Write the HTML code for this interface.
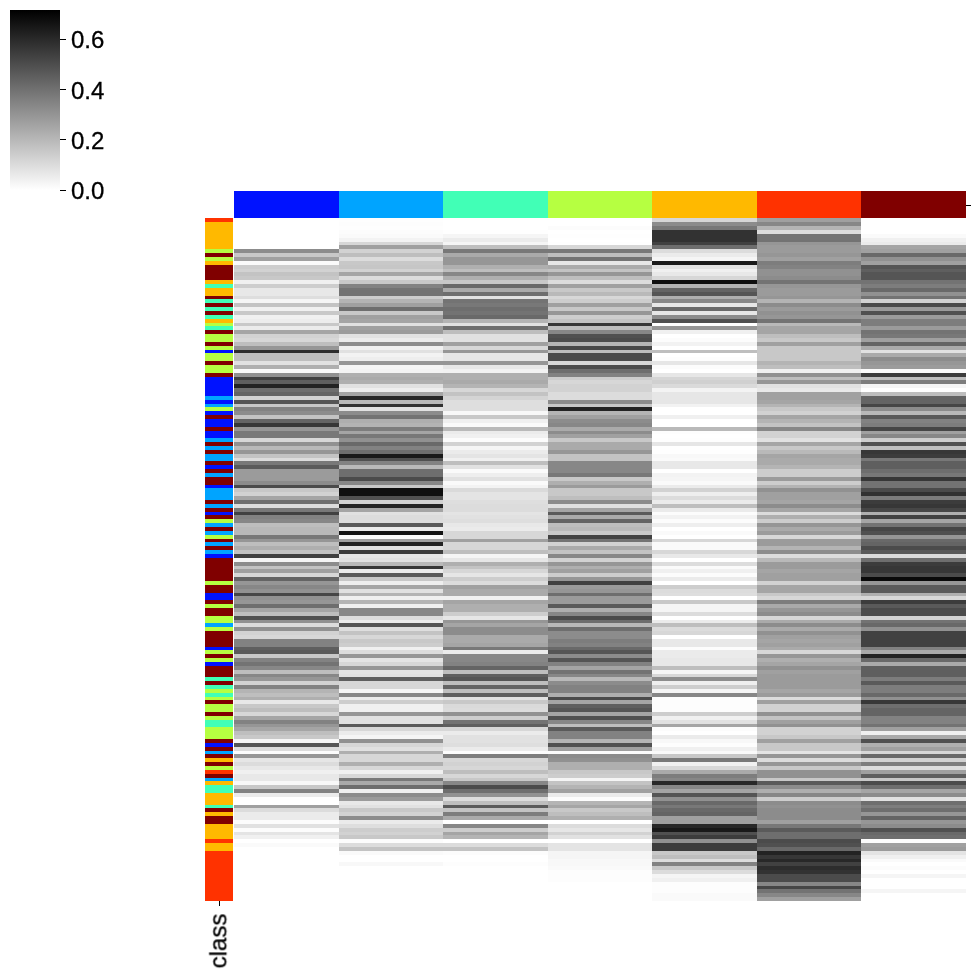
<!DOCTYPE html>
<html><head><meta charset="utf-8"><style>
html,body{margin:0;padding:0;background:#fff;width:976px;height:976px;overflow:hidden;position:relative}
.t{position:absolute;background:#000}
.lb{position:absolute;will-change:transform;-webkit-text-stroke:0.3px #000;font-family:"Liberation Sans",sans-serif;font-size:24px;line-height:1;color:#000;white-space:nowrap}
</style></head><body>
<svg width="976" height="976" shape-rendering="crispEdges" style="position:absolute;left:0;top:0"><rect x="205" y="218" width="28" height="4" fill="#ff3200"/><rect x="205" y="222" width="28" height="27" fill="#ffb900"/><rect x="205" y="249" width="28" height="4" fill="#b6ff41"/><rect x="205" y="253" width="28" height="4" fill="#800000"/><rect x="205" y="257" width="28" height="4" fill="#b6ff41"/><rect x="205" y="261" width="28" height="4" fill="#ffb900"/><rect x="205" y="265" width="28" height="15" fill="#800000"/><rect x="205" y="280" width="28" height="4" fill="#ffb900"/><rect x="205" y="284" width="28" height="4" fill="#41ffb6"/><rect x="205" y="288" width="28" height="8" fill="#ffb900"/><rect x="205" y="296" width="28" height="3" fill="#800000"/><rect x="205" y="299" width="28" height="4" fill="#41ffb6"/><rect x="205" y="303" width="28" height="4" fill="#800000"/><rect x="205" y="307" width="28" height="4" fill="#41ffb6"/><rect x="205" y="311" width="28" height="4" fill="#800000"/><rect x="205" y="315" width="28" height="4" fill="#41ffb6"/><rect x="205" y="319" width="28" height="4" fill="#ffb900"/><rect x="205" y="323" width="28" height="3" fill="#b6ff41"/><rect x="205" y="326" width="28" height="4" fill="#41ffb6"/><rect x="205" y="330" width="28" height="4" fill="#800000"/><rect x="205" y="334" width="28" height="8" fill="#b6ff41"/><rect x="205" y="342" width="28" height="4" fill="#800000"/><rect x="205" y="346" width="28" height="4" fill="#b6ff41"/><rect x="205" y="350" width="28" height="3" fill="#0012ff"/><rect x="205" y="353" width="28" height="8" fill="#b6ff41"/><rect x="205" y="361" width="28" height="4" fill="#800000"/><rect x="205" y="365" width="28" height="8" fill="#b6ff41"/><rect x="205" y="373" width="28" height="4" fill="#800000"/><rect x="205" y="377" width="28" height="19" fill="#0012ff"/><rect x="205" y="396" width="28" height="4" fill="#00a4ff"/><rect x="205" y="400" width="28" height="4" fill="#0012ff"/><rect x="205" y="404" width="28" height="3" fill="#00a4ff"/><rect x="205" y="407" width="28" height="4" fill="#b6ff41"/><rect x="205" y="411" width="28" height="4" fill="#0012ff"/><rect x="205" y="415" width="28" height="4" fill="#800000"/><rect x="205" y="419" width="28" height="8" fill="#0012ff"/><rect x="205" y="427" width="28" height="4" fill="#800000"/><rect x="205" y="431" width="28" height="7" fill="#0012ff"/><rect x="205" y="438" width="28" height="4" fill="#00a4ff"/><rect x="205" y="442" width="28" height="4" fill="#800000"/><rect x="205" y="446" width="28" height="4" fill="#00a4ff"/><rect x="205" y="450" width="28" height="4" fill="#800000"/><rect x="205" y="454" width="28" height="7" fill="#00a4ff"/><rect x="205" y="461" width="28" height="4" fill="#800000"/><rect x="205" y="465" width="28" height="4" fill="#0012ff"/><rect x="205" y="469" width="28" height="4" fill="#800000"/><rect x="205" y="473" width="28" height="4" fill="#00a4ff"/><rect x="205" y="477" width="28" height="8" fill="#800000"/><rect x="205" y="485" width="28" height="3" fill="#0012ff"/><rect x="205" y="488" width="28" height="12" fill="#00a4ff"/><rect x="205" y="500" width="28" height="4" fill="#800000"/><rect x="205" y="504" width="28" height="4" fill="#00a4ff"/><rect x="205" y="508" width="28" height="4" fill="#800000"/><rect x="205" y="512" width="28" height="3" fill="#0012ff"/><rect x="205" y="515" width="28" height="4" fill="#800000"/><rect x="205" y="519" width="28" height="4" fill="#b6ff41"/><rect x="205" y="523" width="28" height="4" fill="#00a4ff"/><rect x="205" y="527" width="28" height="4" fill="#800000"/><rect x="205" y="531" width="28" height="4" fill="#00a4ff"/><rect x="205" y="535" width="28" height="4" fill="#b6ff41"/><rect x="205" y="539" width="28" height="3" fill="#800000"/><rect x="205" y="542" width="28" height="4" fill="#00a4ff"/><rect x="205" y="546" width="28" height="4" fill="#800000"/><rect x="205" y="550" width="28" height="4" fill="#00a4ff"/><rect x="205" y="554" width="28" height="4" fill="#0012ff"/><rect x="205" y="558" width="28" height="23" fill="#800000"/><rect x="205" y="581" width="28" height="4" fill="#b6ff41"/><rect x="205" y="585" width="28" height="8" fill="#800000"/><rect x="205" y="593" width="28" height="7" fill="#0012ff"/><rect x="205" y="600" width="28" height="4" fill="#800000"/><rect x="205" y="604" width="28" height="4" fill="#b6ff41"/><rect x="205" y="608" width="28" height="8" fill="#800000"/><rect x="205" y="616" width="28" height="7" fill="#b6ff41"/><rect x="205" y="623" width="28" height="4" fill="#00a4ff"/><rect x="205" y="627" width="28" height="4" fill="#b6ff41"/><rect x="205" y="631" width="28" height="16" fill="#800000"/><rect x="205" y="647" width="28" height="3" fill="#0012ff"/><rect x="205" y="650" width="28" height="4" fill="#b6ff41"/><rect x="205" y="654" width="28" height="4" fill="#800000"/><rect x="205" y="658" width="28" height="4" fill="#b6ff41"/><rect x="205" y="662" width="28" height="4" fill="#0012ff"/><rect x="205" y="666" width="28" height="11" fill="#800000"/><rect x="205" y="677" width="28" height="4" fill="#41ffb6"/><rect x="205" y="681" width="28" height="4" fill="#800000"/><rect x="205" y="685" width="28" height="4" fill="#41ffb6"/><rect x="205" y="689" width="28" height="4" fill="#b6ff41"/><rect x="205" y="693" width="28" height="4" fill="#41ffb6"/><rect x="205" y="697" width="28" height="3" fill="#b6ff41"/><rect x="205" y="700" width="28" height="4" fill="#800000"/><rect x="205" y="704" width="28" height="8" fill="#b6ff41"/><rect x="205" y="712" width="28" height="4" fill="#800000"/><rect x="205" y="716" width="28" height="4" fill="#b6ff41"/><rect x="205" y="720" width="28" height="7" fill="#41ffb6"/><rect x="205" y="727" width="28" height="12" fill="#b6ff41"/><rect x="205" y="739" width="28" height="4" fill="#800000"/><rect x="205" y="743" width="28" height="4" fill="#0012ff"/><rect x="205" y="747" width="28" height="4" fill="#800000"/><rect x="205" y="751" width="28" height="3" fill="#00a4ff"/><rect x="205" y="754" width="28" height="4" fill="#800000"/><rect x="205" y="758" width="28" height="4" fill="#ffb900"/><rect x="205" y="762" width="28" height="4" fill="#800000"/><rect x="205" y="766" width="28" height="4" fill="#b6ff41"/><rect x="205" y="770" width="28" height="4" fill="#ff3200"/><rect x="205" y="774" width="28" height="4" fill="#800000"/><rect x="205" y="778" width="28" height="3" fill="#00a4ff"/><rect x="205" y="781" width="28" height="4" fill="#ffb900"/><rect x="205" y="785" width="28" height="8" fill="#41ffb6"/><rect x="205" y="793" width="28" height="12" fill="#ffb900"/><rect x="205" y="805" width="28" height="3" fill="#41ffb6"/><rect x="205" y="808" width="28" height="4" fill="#800000"/><rect x="205" y="812" width="28" height="4" fill="#ffb900"/><rect x="205" y="816" width="28" height="8" fill="#800000"/><rect x="205" y="824" width="28" height="15" fill="#ffb900"/><rect x="205" y="839" width="28" height="4" fill="#ff3200"/><rect x="205" y="843" width="28" height="8" fill="#ffb900"/><rect x="205" y="851" width="28" height="50" fill="#ff3200"/><rect x="234" y="249" width="105" height="4" fill="#8c8c8c"/><rect x="234" y="253" width="105" height="4" fill="#c8c8c8"/><rect x="234" y="257" width="105" height="4" fill="#a0a0a0"/><rect x="234" y="261" width="105" height="4" fill="#fafafa"/><rect x="234" y="265" width="105" height="4" fill="#cdcdcd"/><rect x="234" y="269" width="105" height="3" fill="#d2d2d2"/><rect x="234" y="272" width="105" height="4" fill="#c3c3c3"/><rect x="234" y="276" width="105" height="4" fill="#c8c8c8"/><rect x="234" y="280" width="105" height="4" fill="#f0f0f0"/><rect x="234" y="284" width="105" height="4" fill="#cdcdcd"/><rect x="234" y="288" width="105" height="8" fill="#e8e8e8"/><rect x="234" y="296" width="105" height="3" fill="#dedede"/><rect x="234" y="299" width="105" height="4" fill="#f5f5f5"/><rect x="234" y="303" width="105" height="4" fill="#c3c3c3"/><rect x="234" y="307" width="105" height="4" fill="#f0f0f0"/><rect x="234" y="311" width="105" height="4" fill="#c8c8c8"/><rect x="234" y="315" width="105" height="4" fill="#f0f0f0"/><rect x="234" y="319" width="105" height="4" fill="#ececec"/><rect x="234" y="323" width="105" height="3" fill="#c8c8c8"/><rect x="234" y="326" width="105" height="4" fill="#ebebeb"/><rect x="234" y="330" width="105" height="4" fill="#a5a5a5"/><rect x="234" y="334" width="105" height="4" fill="#d2d2d2"/><rect x="234" y="338" width="105" height="4" fill="#d7d7d7"/><rect x="234" y="342" width="105" height="4" fill="#bebebe"/><rect x="234" y="346" width="105" height="4" fill="#969696"/><rect x="234" y="350" width="105" height="3" fill="#2d2d2d"/><rect x="234" y="353" width="105" height="8" fill="#bebebe"/><rect x="234" y="361" width="105" height="4" fill="#e1e1e1"/><rect x="234" y="365" width="105" height="4" fill="#afafaf"/><rect x="234" y="369" width="105" height="4" fill="#fafafa"/><rect x="234" y="373" width="105" height="4" fill="#919191"/><rect x="234" y="377" width="105" height="3" fill="#414141"/><rect x="234" y="380" width="105" height="4" fill="#5f5f5f"/><rect x="234" y="384" width="105" height="4" fill="#232323"/><rect x="234" y="388" width="105" height="4" fill="#6e6e6e"/><rect x="234" y="392" width="105" height="4" fill="#646464"/><rect x="234" y="396" width="105" height="4" fill="#d2d2d2"/><rect x="234" y="400" width="105" height="4" fill="#555555"/><rect x="234" y="404" width="105" height="3" fill="#c8c8c8"/><rect x="234" y="407" width="105" height="4" fill="#828282"/><rect x="234" y="411" width="105" height="4" fill="#8c8c8c"/><rect x="234" y="415" width="105" height="4" fill="#c3c3c3"/><rect x="234" y="419" width="105" height="4" fill="#646464"/><rect x="234" y="423" width="105" height="4" fill="#373737"/><rect x="234" y="427" width="105" height="4" fill="#969696"/><rect x="234" y="431" width="105" height="7" fill="#787878"/><rect x="234" y="438" width="105" height="4" fill="#d7d7d7"/><rect x="234" y="442" width="105" height="4" fill="#919191"/><rect x="234" y="446" width="105" height="4" fill="#b9b9b9"/><rect x="234" y="450" width="105" height="4" fill="#969696"/><rect x="234" y="454" width="105" height="4" fill="#c3c3c3"/><rect x="234" y="458" width="105" height="3" fill="#dcdcdc"/><rect x="234" y="461" width="105" height="4" fill="#787878"/><rect x="234" y="465" width="105" height="4" fill="#5a5a5a"/><rect x="234" y="469" width="105" height="12" fill="#9b9b9b"/><rect x="234" y="481" width="105" height="4" fill="#8c8c8c"/><rect x="234" y="485" width="105" height="3" fill="#4b4b4b"/><rect x="234" y="488" width="105" height="4" fill="#c8c8c8"/><rect x="234" y="492" width="105" height="4" fill="#d2d2d2"/><rect x="234" y="496" width="105" height="4" fill="#a5a5a5"/><rect x="234" y="500" width="105" height="4" fill="#6e6e6e"/><rect x="234" y="504" width="105" height="4" fill="#dcdcdc"/><rect x="234" y="508" width="105" height="4" fill="#787878"/><rect x="234" y="512" width="105" height="3" fill="#414141"/><rect x="234" y="515" width="105" height="4" fill="#828282"/><rect x="234" y="519" width="105" height="4" fill="#878787"/><rect x="234" y="523" width="105" height="4" fill="#bebebe"/><rect x="234" y="527" width="105" height="8" fill="#b9b9b9"/><rect x="234" y="535" width="105" height="4" fill="#787878"/><rect x="234" y="539" width="105" height="3" fill="#969696"/><rect x="234" y="542" width="105" height="4" fill="#bebebe"/><rect x="234" y="546" width="105" height="4" fill="#afafaf"/><rect x="234" y="550" width="105" height="4" fill="#c3c3c3"/><rect x="234" y="554" width="105" height="4" fill="#414141"/><rect x="234" y="558" width="105" height="4" fill="#f5f5f5"/><rect x="234" y="562" width="105" height="4" fill="#8c8c8c"/><rect x="234" y="566" width="105" height="3" fill="#c3c3c3"/><rect x="234" y="569" width="105" height="4" fill="#a0a0a0"/><rect x="234" y="573" width="105" height="4" fill="#d7d7d7"/><rect x="234" y="577" width="105" height="4" fill="#646464"/><rect x="234" y="581" width="105" height="4" fill="#969696"/><rect x="234" y="585" width="105" height="4" fill="#878787"/><rect x="234" y="589" width="105" height="4" fill="#919191"/><rect x="234" y="593" width="105" height="3" fill="#464646"/><rect x="234" y="596" width="105" height="4" fill="#919191"/><rect x="234" y="600" width="105" height="4" fill="#969696"/><rect x="234" y="604" width="105" height="4" fill="#6e6e6e"/><rect x="234" y="608" width="105" height="4" fill="#a5a5a5"/><rect x="234" y="612" width="105" height="4" fill="#bebebe"/><rect x="234" y="616" width="105" height="4" fill="#505050"/><rect x="234" y="620" width="105" height="3" fill="#919191"/><rect x="234" y="623" width="105" height="4" fill="#dcdcdc"/><rect x="234" y="627" width="105" height="4" fill="#919191"/><rect x="234" y="631" width="105" height="4" fill="#d2d2d2"/><rect x="234" y="635" width="105" height="4" fill="#d7d7d7"/><rect x="234" y="639" width="105" height="8" fill="#828282"/><rect x="234" y="647" width="105" height="3" fill="#5f5f5f"/><rect x="234" y="650" width="105" height="4" fill="#5a5a5a"/><rect x="234" y="654" width="105" height="4" fill="#c8c8c8"/><rect x="234" y="658" width="105" height="4" fill="#828282"/><rect x="234" y="662" width="105" height="4" fill="#737373"/><rect x="234" y="666" width="105" height="4" fill="#878787"/><rect x="234" y="670" width="105" height="4" fill="#bebebe"/><rect x="234" y="674" width="105" height="3" fill="#878787"/><rect x="234" y="677" width="105" height="4" fill="#969696"/><rect x="234" y="681" width="105" height="4" fill="#d2d2d2"/><rect x="234" y="685" width="105" height="4" fill="#828282"/><rect x="234" y="689" width="105" height="4" fill="#b4b4b4"/><rect x="234" y="693" width="105" height="4" fill="#bebebe"/><rect x="234" y="697" width="105" height="3" fill="#afafaf"/><rect x="234" y="700" width="105" height="4" fill="#e8e8e8"/><rect x="234" y="704" width="105" height="4" fill="#c8c8c8"/><rect x="234" y="708" width="105" height="4" fill="#bebebe"/><rect x="234" y="712" width="105" height="4" fill="#d7d7d7"/><rect x="234" y="716" width="105" height="4" fill="#a5a5a5"/><rect x="234" y="720" width="105" height="4" fill="#828282"/><rect x="234" y="724" width="105" height="3" fill="#969696"/><rect x="234" y="727" width="105" height="4" fill="#a5a5a5"/><rect x="234" y="731" width="105" height="4" fill="#bebebe"/><rect x="234" y="735" width="105" height="4" fill="#c8c8c8"/><rect x="234" y="739" width="105" height="4" fill="#f5f5f5"/><rect x="234" y="743" width="105" height="4" fill="#555555"/><rect x="234" y="747" width="105" height="4" fill="#dcdcdc"/><rect x="234" y="751" width="105" height="3" fill="#fcfcfc"/><rect x="234" y="754" width="105" height="4" fill="#969696"/><rect x="234" y="758" width="105" height="4" fill="#e6e6e6"/><rect x="234" y="762" width="105" height="4" fill="#dcdcdc"/><rect x="234" y="766" width="105" height="4" fill="#e8e8e8"/><rect x="234" y="770" width="105" height="4" fill="#f0f0f0"/><rect x="234" y="774" width="105" height="7" fill="#e8e8e8"/><rect x="234" y="781" width="105" height="4" fill="#f8f8f8"/><rect x="234" y="785" width="105" height="4" fill="#c8c8c8"/><rect x="234" y="789" width="105" height="4" fill="#828282"/><rect x="234" y="793" width="105" height="4" fill="#ebebeb"/><rect x="234" y="805" width="105" height="3" fill="#a0a0a0"/><rect x="234" y="808" width="105" height="4" fill="#dcdcdc"/><rect x="234" y="812" width="105" height="8" fill="#ebebeb"/><rect x="234" y="820" width="105" height="4" fill="#fcfcfc"/><rect x="234" y="824" width="105" height="4" fill="#e1e1e1"/><rect x="234" y="828" width="105" height="4" fill="#fcfcfc"/><rect x="234" y="832" width="105" height="3" fill="#e4e4e4"/><rect x="234" y="835" width="105" height="4" fill="#f0f0f0"/><rect x="234" y="843" width="105" height="4" fill="#fafafa"/><rect x="339" y="218" width="104" height="4" fill="#fefefe"/><rect x="339" y="222" width="104" height="4" fill="#fdfdfd"/><rect x="339" y="226" width="104" height="4" fill="#fefefe"/><rect x="339" y="230" width="104" height="4" fill="#fcfcfc"/><rect x="339" y="234" width="104" height="4" fill="#fafafa"/><rect x="339" y="238" width="104" height="4" fill="#f3f3f3"/><rect x="339" y="242" width="104" height="3" fill="#d7d7d7"/><rect x="339" y="245" width="104" height="4" fill="#a0a0a0"/><rect x="339" y="249" width="104" height="4" fill="#d2d2d2"/><rect x="339" y="253" width="104" height="4" fill="#bebebe"/><rect x="339" y="257" width="104" height="4" fill="#dcdcdc"/><rect x="339" y="261" width="104" height="4" fill="#c8c8c8"/><rect x="339" y="265" width="104" height="4" fill="#c6c6c6"/><rect x="339" y="269" width="104" height="3" fill="#d2d2d2"/><rect x="339" y="272" width="104" height="4" fill="#a5a5a5"/><rect x="339" y="276" width="104" height="4" fill="#dcdcdc"/><rect x="339" y="280" width="104" height="4" fill="#c8c8c8"/><rect x="339" y="284" width="104" height="4" fill="#828282"/><rect x="339" y="288" width="104" height="8" fill="#737373"/><rect x="339" y="296" width="104" height="3" fill="#cdcdcd"/><rect x="339" y="299" width="104" height="4" fill="#b4b4b4"/><rect x="339" y="303" width="104" height="4" fill="#a0a0a0"/><rect x="339" y="307" width="104" height="4" fill="#6e6e6e"/><rect x="339" y="311" width="104" height="4" fill="#c8c8c8"/><rect x="339" y="315" width="104" height="4" fill="#a0a0a0"/><rect x="339" y="319" width="104" height="4" fill="#a5a5a5"/><rect x="339" y="323" width="104" height="3" fill="#e1e1e1"/><rect x="339" y="326" width="104" height="4" fill="#a0a0a0"/><rect x="339" y="330" width="104" height="4" fill="#9b9b9b"/><rect x="339" y="334" width="104" height="4" fill="#e1e1e1"/><rect x="339" y="338" width="104" height="4" fill="#ebebeb"/><rect x="339" y="342" width="104" height="4" fill="#8c8c8c"/><rect x="339" y="346" width="104" height="4" fill="#f0f0f0"/><rect x="339" y="350" width="104" height="3" fill="#e1e1e1"/><rect x="339" y="353" width="104" height="4" fill="#f3f3f3"/><rect x="339" y="357" width="104" height="4" fill="#eeeeee"/><rect x="339" y="361" width="104" height="4" fill="#969696"/><rect x="339" y="365" width="104" height="4" fill="#f5f5f5"/><rect x="339" y="369" width="104" height="4" fill="#f3f3f3"/><rect x="339" y="373" width="104" height="4" fill="#afafaf"/><rect x="339" y="377" width="104" height="3" fill="#aaaaaa"/><rect x="339" y="380" width="104" height="4" fill="#afafaf"/><rect x="339" y="384" width="104" height="4" fill="#e1e1e1"/><rect x="339" y="388" width="104" height="4" fill="#eeeeee"/><rect x="339" y="392" width="104" height="4" fill="#a5a5a5"/><rect x="339" y="396" width="104" height="4" fill="#282828"/><rect x="339" y="400" width="104" height="4" fill="#b9b9b9"/><rect x="339" y="404" width="104" height="3" fill="#323232"/><rect x="339" y="407" width="104" height="4" fill="#e1e1e1"/><rect x="339" y="411" width="104" height="4" fill="#8c8c8c"/><rect x="339" y="415" width="104" height="4" fill="#737373"/><rect x="339" y="419" width="104" height="4" fill="#afafaf"/><rect x="339" y="423" width="104" height="4" fill="#b4b4b4"/><rect x="339" y="427" width="104" height="4" fill="#7d7d7d"/><rect x="339" y="431" width="104" height="3" fill="#a5a5a5"/><rect x="339" y="434" width="104" height="4" fill="#787878"/><rect x="339" y="438" width="104" height="4" fill="#919191"/><rect x="339" y="442" width="104" height="4" fill="#696969"/><rect x="339" y="446" width="104" height="4" fill="#828282"/><rect x="339" y="450" width="104" height="4" fill="#6e6e6e"/><rect x="339" y="454" width="104" height="4" fill="#191919"/><rect x="339" y="458" width="104" height="3" fill="#505050"/><rect x="339" y="461" width="104" height="4" fill="#828282"/><rect x="339" y="465" width="104" height="4" fill="#b9b9b9"/><rect x="339" y="469" width="104" height="8" fill="#6e6e6e"/><rect x="339" y="477" width="104" height="4" fill="#4b4b4b"/><rect x="339" y="481" width="104" height="4" fill="#878787"/><rect x="339" y="485" width="104" height="3" fill="#c8c8c8"/><rect x="339" y="488" width="104" height="8" fill="#0f0f0f"/><rect x="339" y="496" width="104" height="4" fill="#505050"/><rect x="339" y="500" width="104" height="4" fill="#d2d2d2"/><rect x="339" y="504" width="104" height="4" fill="#232323"/><rect x="339" y="508" width="104" height="4" fill="#a5a5a5"/><rect x="339" y="512" width="104" height="3" fill="#e1e1e1"/><rect x="339" y="515" width="104" height="8" fill="#dcdcdc"/><rect x="339" y="523" width="104" height="4" fill="#5a5a5a"/><rect x="339" y="527" width="104" height="4" fill="#ebebeb"/><rect x="339" y="531" width="104" height="4" fill="#141414"/><rect x="339" y="535" width="104" height="4" fill="#fcfcfc"/><rect x="339" y="539" width="104" height="3" fill="#a0a0a0"/><rect x="339" y="542" width="104" height="4" fill="#232323"/><rect x="339" y="546" width="104" height="4" fill="#e1e1e1"/><rect x="339" y="550" width="104" height="4" fill="#3c3c3c"/><rect x="339" y="554" width="104" height="4" fill="#e6e6e6"/><rect x="339" y="558" width="104" height="4" fill="#e1e1e1"/><rect x="339" y="562" width="104" height="4" fill="#b9b9b9"/><rect x="339" y="566" width="104" height="3" fill="#373737"/><rect x="339" y="569" width="104" height="4" fill="#ebebeb"/><rect x="339" y="573" width="104" height="4" fill="#5a5a5a"/><rect x="339" y="577" width="104" height="4" fill="#c8c8c8"/><rect x="339" y="581" width="104" height="4" fill="#eeeeee"/><rect x="339" y="585" width="104" height="4" fill="#a5a5a5"/><rect x="339" y="589" width="104" height="4" fill="#e1e1e1"/><rect x="339" y="593" width="104" height="3" fill="#b4b4b4"/><rect x="339" y="596" width="104" height="4" fill="#f0f0f0"/><rect x="339" y="600" width="104" height="4" fill="#b4b4b4"/><rect x="339" y="604" width="104" height="4" fill="#f0f0f0"/><rect x="339" y="608" width="104" height="8" fill="#878787"/><rect x="339" y="616" width="104" height="4" fill="#dcdcdc"/><rect x="339" y="620" width="104" height="3" fill="#ebebeb"/><rect x="339" y="623" width="104" height="4" fill="#555555"/><rect x="339" y="627" width="104" height="4" fill="#dedede"/><rect x="339" y="631" width="104" height="4" fill="#c3c3c3"/><rect x="339" y="635" width="104" height="4" fill="#d7d7d7"/><rect x="339" y="639" width="104" height="4" fill="#c8c8c8"/><rect x="339" y="643" width="104" height="4" fill="#cdcdcd"/><rect x="339" y="647" width="104" height="3" fill="#f0f0f0"/><rect x="339" y="650" width="104" height="4" fill="#dcdcdc"/><rect x="339" y="654" width="104" height="4" fill="#969696"/><rect x="339" y="658" width="104" height="4" fill="#e4e4e4"/><rect x="339" y="662" width="104" height="4" fill="#d7d7d7"/><rect x="339" y="666" width="104" height="4" fill="#969696"/><rect x="339" y="670" width="104" height="4" fill="#e4e4e4"/><rect x="339" y="674" width="104" height="3" fill="#e1e1e1"/><rect x="339" y="677" width="104" height="4" fill="#5f5f5f"/><rect x="339" y="681" width="104" height="8" fill="#d7d7d7"/><rect x="339" y="689" width="104" height="4" fill="#f5f5f5"/><rect x="339" y="693" width="104" height="4" fill="#878787"/><rect x="339" y="697" width="104" height="3" fill="#ebebeb"/><rect x="339" y="700" width="104" height="4" fill="#cdcdcd"/><rect x="339" y="704" width="104" height="8" fill="#f0f0f0"/><rect x="339" y="712" width="104" height="4" fill="#969696"/><rect x="339" y="716" width="104" height="8" fill="#e1e1e1"/><rect x="339" y="724" width="104" height="3" fill="#5a5a5a"/><rect x="339" y="727" width="104" height="4" fill="#d7d7d7"/><rect x="339" y="731" width="104" height="4" fill="#ebebeb"/><rect x="339" y="735" width="104" height="4" fill="#f5f5f5"/><rect x="339" y="739" width="104" height="4" fill="#919191"/><rect x="339" y="743" width="104" height="4" fill="#d7d7d7"/><rect x="339" y="747" width="104" height="4" fill="#e1e1e1"/><rect x="339" y="751" width="104" height="3" fill="#afafaf"/><rect x="339" y="754" width="104" height="8" fill="#d7d7d7"/><rect x="339" y="762" width="104" height="4" fill="#afafaf"/><rect x="339" y="766" width="104" height="4" fill="#d7d7d7"/><rect x="339" y="770" width="104" height="4" fill="#f0f0f0"/><rect x="339" y="774" width="104" height="4" fill="#d7d7d7"/><rect x="339" y="778" width="104" height="3" fill="#787878"/><rect x="339" y="781" width="104" height="4" fill="#aaaaaa"/><rect x="339" y="785" width="104" height="4" fill="#6e6e6e"/><rect x="339" y="789" width="104" height="4" fill="#f0f0f0"/><rect x="339" y="793" width="104" height="4" fill="#8c8c8c"/><rect x="339" y="797" width="104" height="4" fill="#9b9b9b"/><rect x="339" y="801" width="104" height="4" fill="#e8e8e8"/><rect x="339" y="805" width="104" height="3" fill="#e1e1e1"/><rect x="339" y="808" width="104" height="4" fill="#c8c8c8"/><rect x="339" y="812" width="104" height="4" fill="#d2d2d2"/><rect x="339" y="816" width="104" height="4" fill="#8c8c8c"/><rect x="339" y="820" width="104" height="4" fill="#ebebeb"/><rect x="339" y="824" width="104" height="4" fill="#dedede"/><rect x="339" y="828" width="104" height="4" fill="#cdcdcd"/><rect x="339" y="832" width="104" height="3" fill="#d2d2d2"/><rect x="339" y="835" width="104" height="4" fill="#c8c8c8"/><rect x="339" y="839" width="104" height="4" fill="#fcfcfc"/><rect x="339" y="843" width="104" height="4" fill="#dcdcdc"/><rect x="339" y="847" width="104" height="4" fill="#c3c3c3"/><rect x="339" y="851" width="104" height="4" fill="#fafafa"/><rect x="339" y="862" width="104" height="4" fill="#f8f8f8"/><rect x="443" y="230" width="105" height="4" fill="#fefefe"/><rect x="443" y="234" width="105" height="4" fill="#f5f5f5"/><rect x="443" y="238" width="105" height="4" fill="#ebebeb"/><rect x="443" y="242" width="105" height="3" fill="#f5f5f5"/><rect x="443" y="245" width="105" height="4" fill="#bebebe"/><rect x="443" y="249" width="105" height="4" fill="#787878"/><rect x="443" y="253" width="105" height="4" fill="#aaaaaa"/><rect x="443" y="257" width="105" height="8" fill="#969696"/><rect x="443" y="265" width="105" height="4" fill="#afafaf"/><rect x="443" y="269" width="105" height="3" fill="#bebebe"/><rect x="443" y="272" width="105" height="4" fill="#878787"/><rect x="443" y="276" width="105" height="4" fill="#afafaf"/><rect x="443" y="280" width="105" height="4" fill="#c8c8c8"/><rect x="443" y="284" width="105" height="4" fill="#696969"/><rect x="443" y="288" width="105" height="4" fill="#aaaaaa"/><rect x="443" y="292" width="105" height="4" fill="#6e6e6e"/><rect x="443" y="296" width="105" height="3" fill="#e1e1e1"/><rect x="443" y="299" width="105" height="4" fill="#737373"/><rect x="443" y="303" width="105" height="4" fill="#787878"/><rect x="443" y="307" width="105" height="4" fill="#6e6e6e"/><rect x="443" y="311" width="105" height="4" fill="#737373"/><rect x="443" y="315" width="105" height="4" fill="#696969"/><rect x="443" y="319" width="105" height="4" fill="#b4b4b4"/><rect x="443" y="323" width="105" height="3" fill="#e1e1e1"/><rect x="443" y="326" width="105" height="4" fill="#6e6e6e"/><rect x="443" y="330" width="105" height="4" fill="#bebebe"/><rect x="443" y="334" width="105" height="8" fill="#e1e1e1"/><rect x="443" y="342" width="105" height="4" fill="#a0a0a0"/><rect x="443" y="346" width="105" height="4" fill="#d7d7d7"/><rect x="443" y="350" width="105" height="3" fill="#969696"/><rect x="443" y="353" width="105" height="8" fill="#e6e6e6"/><rect x="443" y="361" width="105" height="4" fill="#969696"/><rect x="443" y="365" width="105" height="4" fill="#e8e8e8"/><rect x="443" y="369" width="105" height="4" fill="#f2f2f2"/><rect x="443" y="373" width="105" height="7" fill="#afafaf"/><rect x="443" y="380" width="105" height="4" fill="#aaaaaa"/><rect x="443" y="384" width="105" height="4" fill="#b4b4b4"/><rect x="443" y="388" width="105" height="4" fill="#d7d7d7"/><rect x="443" y="392" width="105" height="4" fill="#c3c3c3"/><rect x="443" y="396" width="105" height="4" fill="#d4d4d4"/><rect x="443" y="400" width="105" height="11" fill="#dedede"/><rect x="443" y="411" width="105" height="4" fill="#f8f8f8"/><rect x="443" y="415" width="105" height="4" fill="#c8c8c8"/><rect x="443" y="419" width="105" height="4" fill="#f0f0f0"/><rect x="443" y="423" width="105" height="4" fill="#fafafa"/><rect x="443" y="427" width="105" height="4" fill="#b9b9b9"/><rect x="443" y="431" width="105" height="3" fill="#ebebeb"/><rect x="443" y="434" width="105" height="4" fill="#f0f0f0"/><rect x="443" y="438" width="105" height="4" fill="#fcfcfc"/><rect x="443" y="442" width="105" height="4" fill="#d2d2d2"/><rect x="443" y="446" width="105" height="4" fill="#f5f5f5"/><rect x="443" y="450" width="105" height="4" fill="#ebebeb"/><rect x="443" y="454" width="105" height="4" fill="#e4e4e4"/><rect x="443" y="458" width="105" height="3" fill="#f0f0f0"/><rect x="443" y="461" width="105" height="4" fill="#bebebe"/><rect x="443" y="465" width="105" height="4" fill="#e1e1e1"/><rect x="443" y="469" width="105" height="4" fill="#fafafa"/><rect x="443" y="473" width="105" height="4" fill="#eeeeee"/><rect x="443" y="477" width="105" height="4" fill="#e1e1e1"/><rect x="443" y="481" width="105" height="4" fill="#fafafa"/><rect x="443" y="485" width="105" height="3" fill="#f3f3f3"/><rect x="443" y="488" width="105" height="4" fill="#dadada"/><rect x="443" y="492" width="105" height="8" fill="#e4e4e4"/><rect x="443" y="500" width="105" height="4" fill="#dedede"/><rect x="443" y="504" width="105" height="8" fill="#dcdcdc"/><rect x="443" y="512" width="105" height="3" fill="#e4e4e4"/><rect x="443" y="515" width="105" height="4" fill="#e1e1e1"/><rect x="443" y="519" width="105" height="4" fill="#dedede"/><rect x="443" y="523" width="105" height="4" fill="#e8e8e8"/><rect x="443" y="527" width="105" height="4" fill="#ebebeb"/><rect x="443" y="531" width="105" height="8" fill="#d7d7d7"/><rect x="443" y="539" width="105" height="3" fill="#a0a0a0"/><rect x="443" y="542" width="105" height="8" fill="#d7d7d7"/><rect x="443" y="550" width="105" height="4" fill="#bebebe"/><rect x="443" y="554" width="105" height="4" fill="#f5f5f5"/><rect x="443" y="558" width="105" height="4" fill="#e6e6e6"/><rect x="443" y="562" width="105" height="4" fill="#afafaf"/><rect x="443" y="566" width="105" height="3" fill="#c3c3c3"/><rect x="443" y="569" width="105" height="4" fill="#d7d7d7"/><rect x="443" y="573" width="105" height="4" fill="#e6e6e6"/><rect x="443" y="577" width="105" height="4" fill="#cdcdcd"/><rect x="443" y="581" width="105" height="4" fill="#dcdcdc"/><rect x="443" y="585" width="105" height="4" fill="#a0a0a0"/><rect x="443" y="589" width="105" height="7" fill="#aaaaaa"/><rect x="443" y="596" width="105" height="4" fill="#f0f0f0"/><rect x="443" y="600" width="105" height="4" fill="#a5a5a5"/><rect x="443" y="604" width="105" height="8" fill="#afafaf"/><rect x="443" y="612" width="105" height="4" fill="#cdcdcd"/><rect x="443" y="616" width="105" height="4" fill="#e6e6e6"/><rect x="443" y="620" width="105" height="3" fill="#969696"/><rect x="443" y="623" width="105" height="4" fill="#a5a5a5"/><rect x="443" y="627" width="105" height="8" fill="#8c8c8c"/><rect x="443" y="635" width="105" height="8" fill="#aaaaaa"/><rect x="443" y="643" width="105" height="4" fill="#a5a5a5"/><rect x="443" y="647" width="105" height="3" fill="#787878"/><rect x="443" y="650" width="105" height="4" fill="#ebebeb"/><rect x="443" y="654" width="105" height="8" fill="#878787"/><rect x="443" y="662" width="105" height="4" fill="#828282"/><rect x="443" y="666" width="105" height="4" fill="#646464"/><rect x="443" y="670" width="105" height="4" fill="#bebebe"/><rect x="443" y="674" width="105" height="3" fill="#5f5f5f"/><rect x="443" y="677" width="105" height="4" fill="#555555"/><rect x="443" y="681" width="105" height="4" fill="#bebebe"/><rect x="443" y="685" width="105" height="4" fill="#646464"/><rect x="443" y="689" width="105" height="4" fill="#bebebe"/><rect x="443" y="693" width="105" height="4" fill="#5f5f5f"/><rect x="443" y="697" width="105" height="3" fill="#e1e1e1"/><rect x="443" y="700" width="105" height="4" fill="#c8c8c8"/><rect x="443" y="704" width="105" height="4" fill="#dadada"/><rect x="443" y="708" width="105" height="4" fill="#dcdcdc"/><rect x="443" y="712" width="105" height="4" fill="#919191"/><rect x="443" y="716" width="105" height="4" fill="#cdcdcd"/><rect x="443" y="720" width="105" height="4" fill="#737373"/><rect x="443" y="724" width="105" height="3" fill="#5f5f5f"/><rect x="443" y="727" width="105" height="4" fill="#d7d7d7"/><rect x="443" y="731" width="105" height="4" fill="#ebebeb"/><rect x="443" y="735" width="105" height="8" fill="#e1e1e1"/><rect x="443" y="743" width="105" height="4" fill="#dedede"/><rect x="443" y="747" width="105" height="4" fill="#ebebeb"/><rect x="443" y="751" width="105" height="3" fill="#fcfcfc"/><rect x="443" y="754" width="105" height="4" fill="#7d7d7d"/><rect x="443" y="758" width="105" height="4" fill="#d7d7d7"/><rect x="443" y="762" width="105" height="4" fill="#d2d2d2"/><rect x="443" y="766" width="105" height="4" fill="#d7d7d7"/><rect x="443" y="770" width="105" height="4" fill="#bebebe"/><rect x="443" y="774" width="105" height="4" fill="#d7d7d7"/><rect x="443" y="778" width="105" height="3" fill="#c8c8c8"/><rect x="443" y="781" width="105" height="4" fill="#878787"/><rect x="443" y="785" width="105" height="4" fill="#4b4b4b"/><rect x="443" y="789" width="105" height="4" fill="#6e6e6e"/><rect x="443" y="793" width="105" height="4" fill="#919191"/><rect x="443" y="797" width="105" height="4" fill="#dcdcdc"/><rect x="443" y="801" width="105" height="4" fill="#bebebe"/><rect x="443" y="805" width="105" height="3" fill="#5a5a5a"/><rect x="443" y="808" width="105" height="4" fill="#c3c3c3"/><rect x="443" y="812" width="105" height="4" fill="#7d7d7d"/><rect x="443" y="816" width="105" height="4" fill="#aaaaaa"/><rect x="443" y="824" width="105" height="4" fill="#878787"/><rect x="443" y="828" width="105" height="4" fill="#cdcdcd"/><rect x="443" y="832" width="105" height="3" fill="#a5a5a5"/><rect x="443" y="835" width="105" height="4" fill="#b4b4b4"/><rect x="443" y="843" width="105" height="4" fill="#dcdcdc"/><rect x="443" y="847" width="105" height="4" fill="#c3c3c3"/><rect x="443" y="851" width="105" height="4" fill="#fcfcfc"/><rect x="443" y="862" width="105" height="4" fill="#fdfdfd"/><rect x="548" y="226" width="104" height="4" fill="#fcfcfc"/><rect x="548" y="234" width="104" height="4" fill="#fefefe"/><rect x="548" y="242" width="104" height="3" fill="#fefefe"/><rect x="548" y="245" width="104" height="4" fill="#d7d7d7"/><rect x="548" y="249" width="104" height="4" fill="#787878"/><rect x="548" y="253" width="104" height="4" fill="#bebebe"/><rect x="548" y="257" width="104" height="4" fill="#737373"/><rect x="548" y="261" width="104" height="4" fill="#e6e6e6"/><rect x="548" y="265" width="104" height="4" fill="#aaaaaa"/><rect x="548" y="269" width="104" height="3" fill="#c3c3c3"/><rect x="548" y="272" width="104" height="4" fill="#969696"/><rect x="548" y="276" width="104" height="4" fill="#bebebe"/><rect x="548" y="280" width="104" height="4" fill="#dcdcdc"/><rect x="548" y="284" width="104" height="4" fill="#a0a0a0"/><rect x="548" y="288" width="104" height="4" fill="#c8c8c8"/><rect x="548" y="292" width="104" height="4" fill="#b9b9b9"/><rect x="548" y="296" width="104" height="3" fill="#d7d7d7"/><rect x="548" y="299" width="104" height="4" fill="#cdcdcd"/><rect x="548" y="303" width="104" height="4" fill="#a0a0a0"/><rect x="548" y="307" width="104" height="4" fill="#c8c8c8"/><rect x="548" y="311" width="104" height="4" fill="#969696"/><rect x="548" y="315" width="104" height="4" fill="#cdcdcd"/><rect x="548" y="319" width="104" height="4" fill="#c3c3c3"/><rect x="548" y="323" width="104" height="3" fill="#373737"/><rect x="548" y="326" width="104" height="4" fill="#bebebe"/><rect x="548" y="330" width="104" height="4" fill="#878787"/><rect x="548" y="334" width="104" height="4" fill="#505050"/><rect x="548" y="338" width="104" height="4" fill="#4b4b4b"/><rect x="548" y="342" width="104" height="4" fill="#b4b4b4"/><rect x="548" y="346" width="104" height="4" fill="#464646"/><rect x="548" y="350" width="104" height="3" fill="#bebebe"/><rect x="548" y="353" width="104" height="8" fill="#4b4b4b"/><rect x="548" y="361" width="104" height="4" fill="#d7d7d7"/><rect x="548" y="365" width="104" height="4" fill="#4b4b4b"/><rect x="548" y="369" width="104" height="4" fill="#6e6e6e"/><rect x="548" y="373" width="104" height="4" fill="#828282"/><rect x="548" y="377" width="104" height="3" fill="#cdcdcd"/><rect x="548" y="380" width="104" height="4" fill="#d7d7d7"/><rect x="548" y="384" width="104" height="8" fill="#d2d2d2"/><rect x="548" y="392" width="104" height="8" fill="#dcdcdc"/><rect x="548" y="400" width="104" height="4" fill="#8c8c8c"/><rect x="548" y="404" width="104" height="3" fill="#c8c8c8"/><rect x="548" y="407" width="104" height="4" fill="#232323"/><rect x="548" y="411" width="104" height="4" fill="#b4b4b4"/><rect x="548" y="415" width="104" height="4" fill="#a0a0a0"/><rect x="548" y="419" width="104" height="4" fill="#8c8c8c"/><rect x="548" y="423" width="104" height="4" fill="#878787"/><rect x="548" y="427" width="104" height="4" fill="#aaaaaa"/><rect x="548" y="431" width="104" height="3" fill="#8c8c8c"/><rect x="548" y="434" width="104" height="4" fill="#a0a0a0"/><rect x="548" y="438" width="104" height="4" fill="#c8c8c8"/><rect x="548" y="442" width="104" height="8" fill="#aaaaaa"/><rect x="548" y="450" width="104" height="4" fill="#969696"/><rect x="548" y="454" width="104" height="7" fill="#c3c3c3"/><rect x="548" y="461" width="104" height="12" fill="#878787"/><rect x="548" y="473" width="104" height="4" fill="#787878"/><rect x="548" y="477" width="104" height="4" fill="#c8c8c8"/><rect x="548" y="481" width="104" height="4" fill="#afafaf"/><rect x="548" y="485" width="104" height="3" fill="#9b9b9b"/><rect x="548" y="488" width="104" height="8" fill="#c8c8c8"/><rect x="548" y="496" width="104" height="4" fill="#bebebe"/><rect x="548" y="500" width="104" height="4" fill="#8c8c8c"/><rect x="548" y="504" width="104" height="4" fill="#e1e1e1"/><rect x="548" y="508" width="104" height="4" fill="#a5a5a5"/><rect x="548" y="512" width="104" height="3" fill="#5a5a5a"/><rect x="548" y="515" width="104" height="4" fill="#aaaaaa"/><rect x="548" y="519" width="104" height="4" fill="#646464"/><rect x="548" y="523" width="104" height="4" fill="#bebebe"/><rect x="548" y="527" width="104" height="4" fill="#b9b9b9"/><rect x="548" y="531" width="104" height="4" fill="#c8c8c8"/><rect x="548" y="535" width="104" height="4" fill="#414141"/><rect x="548" y="539" width="104" height="3" fill="#737373"/><rect x="548" y="542" width="104" height="4" fill="#d2d2d2"/><rect x="548" y="546" width="104" height="4" fill="#aaaaaa"/><rect x="548" y="550" width="104" height="4" fill="#c3c3c3"/><rect x="548" y="554" width="104" height="4" fill="#878787"/><rect x="548" y="558" width="104" height="4" fill="#d2d2d2"/><rect x="548" y="562" width="104" height="4" fill="#969696"/><rect x="548" y="566" width="104" height="3" fill="#afafaf"/><rect x="548" y="569" width="104" height="4" fill="#a0a0a0"/><rect x="548" y="573" width="104" height="4" fill="#cdcdcd"/><rect x="548" y="577" width="104" height="4" fill="#969696"/><rect x="548" y="581" width="104" height="4" fill="#414141"/><rect x="548" y="585" width="104" height="4" fill="#9b9b9b"/><rect x="548" y="589" width="104" height="4" fill="#969696"/><rect x="548" y="593" width="104" height="3" fill="#6e6e6e"/><rect x="548" y="596" width="104" height="8" fill="#9b9b9b"/><rect x="548" y="604" width="104" height="4" fill="#5a5a5a"/><rect x="548" y="608" width="104" height="4" fill="#afafaf"/><rect x="548" y="612" width="104" height="4" fill="#878787"/><rect x="548" y="616" width="104" height="4" fill="#4b4b4b"/><rect x="548" y="620" width="104" height="3" fill="#6e6e6e"/><rect x="548" y="623" width="104" height="4" fill="#b9b9b9"/><rect x="548" y="627" width="104" height="4" fill="#6e6e6e"/><rect x="548" y="631" width="104" height="8" fill="#8c8c8c"/><rect x="548" y="639" width="104" height="4" fill="#7d7d7d"/><rect x="548" y="643" width="104" height="4" fill="#828282"/><rect x="548" y="647" width="104" height="3" fill="#696969"/><rect x="548" y="650" width="104" height="4" fill="#555555"/><rect x="548" y="654" width="104" height="4" fill="#8c8c8c"/><rect x="548" y="658" width="104" height="4" fill="#555555"/><rect x="548" y="662" width="104" height="4" fill="#828282"/><rect x="548" y="666" width="104" height="4" fill="#a5a5a5"/><rect x="548" y="670" width="104" height="4" fill="#737373"/><rect x="548" y="674" width="104" height="3" fill="#878787"/><rect x="548" y="677" width="104" height="4" fill="#b9b9b9"/><rect x="548" y="681" width="104" height="4" fill="#8c8c8c"/><rect x="548" y="685" width="104" height="8" fill="#828282"/><rect x="548" y="693" width="104" height="4" fill="#afafaf"/><rect x="548" y="697" width="104" height="3" fill="#4b4b4b"/><rect x="548" y="700" width="104" height="4" fill="#a5a5a5"/><rect x="548" y="704" width="104" height="4" fill="#5f5f5f"/><rect x="548" y="708" width="104" height="4" fill="#555555"/><rect x="548" y="712" width="104" height="4" fill="#a5a5a5"/><rect x="548" y="716" width="104" height="4" fill="#505050"/><rect x="548" y="720" width="104" height="4" fill="#878787"/><rect x="548" y="724" width="104" height="3" fill="#bebebe"/><rect x="548" y="727" width="104" height="4" fill="#5a5a5a"/><rect x="548" y="731" width="104" height="8" fill="#828282"/><rect x="548" y="739" width="104" height="4" fill="#b4b4b4"/><rect x="548" y="743" width="104" height="4" fill="#505050"/><rect x="548" y="747" width="104" height="4" fill="#a0a0a0"/><rect x="548" y="751" width="104" height="3" fill="#fcfcfc"/><rect x="548" y="754" width="104" height="4" fill="#8c8c8c"/><rect x="548" y="758" width="104" height="4" fill="#919191"/><rect x="548" y="762" width="104" height="8" fill="#afafaf"/><rect x="548" y="770" width="104" height="4" fill="#c8c8c8"/><rect x="548" y="774" width="104" height="4" fill="#cdcdcd"/><rect x="548" y="778" width="104" height="3" fill="#f5f5f5"/><rect x="548" y="781" width="104" height="4" fill="#c3c3c3"/><rect x="548" y="785" width="104" height="4" fill="#b4b4b4"/><rect x="548" y="789" width="104" height="4" fill="#a0a0a0"/><rect x="548" y="793" width="104" height="4" fill="#ebebeb"/><rect x="548" y="797" width="104" height="4" fill="#fcfcfc"/><rect x="548" y="801" width="104" height="4" fill="#b4b4b4"/><rect x="548" y="805" width="104" height="3" fill="#a5a5a5"/><rect x="548" y="808" width="104" height="4" fill="#c8c8c8"/><rect x="548" y="812" width="104" height="4" fill="#bebebe"/><rect x="548" y="816" width="104" height="4" fill="#afafaf"/><rect x="548" y="824" width="104" height="4" fill="#dcdcdc"/><rect x="548" y="828" width="104" height="4" fill="#e6e6e6"/><rect x="548" y="832" width="104" height="3" fill="#d2d2d2"/><rect x="548" y="835" width="104" height="4" fill="#e1e1e1"/><rect x="548" y="843" width="104" height="8" fill="#e4e4e4"/><rect x="548" y="851" width="104" height="8" fill="#f5f5f5"/><rect x="548" y="859" width="104" height="7" fill="#f8f8f8"/><rect x="548" y="866" width="104" height="4" fill="#fafafa"/><rect x="548" y="870" width="104" height="12" fill="#fdfdfd"/><rect x="652" y="218" width="105" height="4" fill="#d7d7d7"/><rect x="652" y="222" width="105" height="4" fill="#8c8c8c"/><rect x="652" y="226" width="105" height="4" fill="#787878"/><rect x="652" y="230" width="105" height="12" fill="#323232"/><rect x="652" y="242" width="105" height="3" fill="#414141"/><rect x="652" y="245" width="105" height="4" fill="#6e6e6e"/><rect x="652" y="249" width="105" height="4" fill="#dcdcdc"/><rect x="652" y="253" width="105" height="4" fill="#ebebeb"/><rect x="652" y="257" width="105" height="4" fill="#f5f5f5"/><rect x="652" y="261" width="105" height="4" fill="#191919"/><rect x="652" y="265" width="105" height="4" fill="#e1e1e1"/><rect x="652" y="269" width="105" height="3" fill="#f0f0f0"/><rect x="652" y="272" width="105" height="4" fill="#e8e8e8"/><rect x="652" y="276" width="105" height="4" fill="#d7d7d7"/><rect x="652" y="280" width="105" height="4" fill="#0f0f0f"/><rect x="652" y="284" width="105" height="4" fill="#b4b4b4"/><rect x="652" y="288" width="105" height="4" fill="#646464"/><rect x="652" y="292" width="105" height="4" fill="#555555"/><rect x="652" y="296" width="105" height="3" fill="#afafaf"/><rect x="652" y="299" width="105" height="4" fill="#878787"/><rect x="652" y="303" width="105" height="4" fill="#e6e6e6"/><rect x="652" y="307" width="105" height="4" fill="#696969"/><rect x="652" y="311" width="105" height="4" fill="#e6e6e6"/><rect x="652" y="315" width="105" height="4" fill="#8c8c8c"/><rect x="652" y="319" width="105" height="4" fill="#505050"/><rect x="652" y="326" width="105" height="4" fill="#969696"/><rect x="652" y="330" width="105" height="4" fill="#f0f0f0"/><rect x="652" y="338" width="105" height="4" fill="#fcfcfc"/><rect x="652" y="342" width="105" height="4" fill="#f2f2f2"/><rect x="652" y="350" width="105" height="3" fill="#bebebe"/><rect x="652" y="357" width="105" height="4" fill="#fdfdfd"/><rect x="652" y="361" width="105" height="4" fill="#e6e6e6"/><rect x="652" y="365" width="105" height="4" fill="#fcfcfc"/><rect x="652" y="373" width="105" height="4" fill="#e6e6e6"/><rect x="652" y="377" width="105" height="3" fill="#d5d5d5"/><rect x="652" y="380" width="105" height="4" fill="#d0d0d0"/><rect x="652" y="384" width="105" height="4" fill="#dadada"/><rect x="652" y="388" width="105" height="4" fill="#f3f3f3"/><rect x="652" y="392" width="105" height="12" fill="#e6e6e6"/><rect x="652" y="404" width="105" height="3" fill="#f2f2f2"/><rect x="652" y="415" width="105" height="4" fill="#f0f0f0"/><rect x="652" y="427" width="105" height="4" fill="#b9b9b9"/><rect x="652" y="431" width="105" height="3" fill="#fdfdfd"/><rect x="652" y="438" width="105" height="4" fill="#fefefe"/><rect x="652" y="442" width="105" height="4" fill="#e6e6e6"/><rect x="652" y="450" width="105" height="4" fill="#fefefe"/><rect x="652" y="454" width="105" height="4" fill="#f8f8f8"/><rect x="652" y="458" width="105" height="3" fill="#fafafa"/><rect x="652" y="461" width="105" height="8" fill="#e8e8e8"/><rect x="652" y="473" width="105" height="4" fill="#f3f3f3"/><rect x="652" y="477" width="105" height="4" fill="#f5f5f5"/><rect x="652" y="481" width="105" height="4" fill="#fafafa"/><rect x="652" y="485" width="105" height="3" fill="#ebebeb"/><rect x="652" y="488" width="105" height="4" fill="#d2d2d2"/><rect x="652" y="492" width="105" height="4" fill="#eeeeee"/><rect x="652" y="496" width="105" height="4" fill="#dcdcdc"/><rect x="652" y="500" width="105" height="4" fill="#ebebeb"/><rect x="652" y="504" width="105" height="4" fill="#bebebe"/><rect x="652" y="508" width="105" height="4" fill="#ebebeb"/><rect x="652" y="512" width="105" height="3" fill="#fcfcfc"/><rect x="652" y="515" width="105" height="4" fill="#f2f2f2"/><rect x="652" y="519" width="105" height="4" fill="#fcfcfc"/><rect x="652" y="523" width="105" height="4" fill="#eeeeee"/><rect x="652" y="531" width="105" height="4" fill="#fafafa"/><rect x="652" y="539" width="105" height="3" fill="#d7d7d7"/><rect x="652" y="542" width="105" height="8" fill="#fafafa"/><rect x="652" y="550" width="105" height="4" fill="#d7d7d7"/><rect x="652" y="554" width="105" height="4" fill="#e8e8e8"/><rect x="652" y="562" width="105" height="4" fill="#dcdcdc"/><rect x="652" y="566" width="105" height="3" fill="#fafafa"/><rect x="652" y="569" width="105" height="4" fill="#f0f0f0"/><rect x="652" y="573" width="105" height="4" fill="#fcfcfc"/><rect x="652" y="577" width="105" height="4" fill="#ebebeb"/><rect x="652" y="585" width="105" height="4" fill="#cdcdcd"/><rect x="652" y="589" width="105" height="4" fill="#dcdcdc"/><rect x="652" y="593" width="105" height="3" fill="#dedede"/><rect x="652" y="600" width="105" height="4" fill="#c8c8c8"/><rect x="652" y="604" width="105" height="8" fill="#f5f5f5"/><rect x="652" y="612" width="105" height="4" fill="#dcdcdc"/><rect x="652" y="620" width="105" height="3" fill="#ebebeb"/><rect x="652" y="623" width="105" height="4" fill="#bebebe"/><rect x="652" y="627" width="105" height="4" fill="#dcdcdc"/><rect x="652" y="631" width="105" height="4" fill="#d7d7d7"/><rect x="652" y="639" width="105" height="8" fill="#e8e8e8"/><rect x="652" y="647" width="105" height="3" fill="#fcfcfc"/><rect x="652" y="650" width="105" height="8" fill="#ebebeb"/><rect x="652" y="658" width="105" height="8" fill="#e8e8e8"/><rect x="652" y="666" width="105" height="4" fill="#bebebe"/><rect x="652" y="670" width="105" height="4" fill="#f5f5f5"/><rect x="652" y="674" width="105" height="3" fill="#d7d7d7"/><rect x="652" y="677" width="105" height="4" fill="#8c8c8c"/><rect x="652" y="681" width="105" height="4" fill="#eeeeee"/><rect x="652" y="685" width="105" height="4" fill="#cdcdcd"/><rect x="652" y="689" width="105" height="4" fill="#f5f5f5"/><rect x="652" y="693" width="105" height="4" fill="#878787"/><rect x="652" y="697" width="105" height="15" fill="#fdfdfd"/><rect x="652" y="712" width="105" height="4" fill="#cdcdcd"/><rect x="652" y="716" width="105" height="4" fill="#f0f0f0"/><rect x="652" y="720" width="105" height="4" fill="#e1e1e1"/><rect x="652" y="724" width="105" height="3" fill="#a5a5a5"/><rect x="652" y="727" width="105" height="4" fill="#fcfcfc"/><rect x="652" y="735" width="105" height="4" fill="#ebebeb"/><rect x="652" y="739" width="105" height="4" fill="#f8f8f8"/><rect x="652" y="743" width="105" height="4" fill="#fdfdfd"/><rect x="652" y="747" width="105" height="4" fill="#f0f0f0"/><rect x="652" y="751" width="105" height="3" fill="#fafafa"/><rect x="652" y="754" width="105" height="4" fill="#c8c8c8"/><rect x="652" y="758" width="105" height="4" fill="#787878"/><rect x="652" y="762" width="105" height="4" fill="#f0f0f0"/><rect x="652" y="766" width="105" height="4" fill="#d7d7d7"/><rect x="652" y="770" width="105" height="4" fill="#aaaaaa"/><rect x="652" y="774" width="105" height="4" fill="#7d7d7d"/><rect x="652" y="778" width="105" height="3" fill="#878787"/><rect x="652" y="781" width="105" height="4" fill="#282828"/><rect x="652" y="785" width="105" height="4" fill="#878787"/><rect x="652" y="789" width="105" height="4" fill="#a5a5a5"/><rect x="652" y="793" width="105" height="4" fill="#555555"/><rect x="652" y="797" width="105" height="4" fill="#919191"/><rect x="652" y="801" width="105" height="4" fill="#696969"/><rect x="652" y="805" width="105" height="3" fill="#787878"/><rect x="652" y="808" width="105" height="4" fill="#696969"/><rect x="652" y="812" width="105" height="4" fill="#646464"/><rect x="652" y="816" width="105" height="8" fill="#a0a0a0"/><rect x="652" y="824" width="105" height="4" fill="#282828"/><rect x="652" y="828" width="105" height="4" fill="#191919"/><rect x="652" y="832" width="105" height="3" fill="#505050"/><rect x="652" y="835" width="105" height="4" fill="#3c3c3c"/><rect x="652" y="839" width="105" height="4" fill="#919191"/><rect x="652" y="843" width="105" height="8" fill="#3c3c3c"/><rect x="652" y="851" width="105" height="4" fill="#c8c8c8"/><rect x="652" y="855" width="105" height="4" fill="#bebebe"/><rect x="652" y="859" width="105" height="3" fill="#dcdcdc"/><rect x="652" y="862" width="105" height="4" fill="#828282"/><rect x="652" y="866" width="105" height="4" fill="#c8c8c8"/><rect x="652" y="870" width="105" height="4" fill="#dcdcdc"/><rect x="652" y="874" width="105" height="4" fill="#f5f5f5"/><rect x="652" y="878" width="105" height="4" fill="#f0f0f0"/><rect x="652" y="882" width="105" height="11" fill="#fdfdfd"/><rect x="652" y="893" width="105" height="8" fill="#fafafa"/><rect x="757" y="218" width="104" height="4" fill="#a0a0a0"/><rect x="757" y="222" width="104" height="4" fill="#878787"/><rect x="757" y="226" width="104" height="4" fill="#b4b4b4"/><rect x="757" y="230" width="104" height="4" fill="#dcdcdc"/><rect x="757" y="234" width="104" height="8" fill="#737373"/><rect x="757" y="242" width="104" height="3" fill="#969696"/><rect x="757" y="245" width="104" height="8" fill="#9b9b9b"/><rect x="757" y="253" width="104" height="4" fill="#969696"/><rect x="757" y="257" width="104" height="4" fill="#a0a0a0"/><rect x="757" y="261" width="104" height="4" fill="#7d7d7d"/><rect x="757" y="265" width="104" height="4" fill="#828282"/><rect x="757" y="269" width="104" height="7" fill="#919191"/><rect x="757" y="276" width="104" height="4" fill="#8c8c8c"/><rect x="757" y="280" width="104" height="4" fill="#737373"/><rect x="757" y="284" width="104" height="4" fill="#969696"/><rect x="757" y="288" width="104" height="8" fill="#9b9b9b"/><rect x="757" y="296" width="104" height="3" fill="#969696"/><rect x="757" y="299" width="104" height="4" fill="#b4b4b4"/><rect x="757" y="303" width="104" height="4" fill="#8c8c8c"/><rect x="757" y="307" width="104" height="4" fill="#9b9b9b"/><rect x="757" y="311" width="104" height="4" fill="#919191"/><rect x="757" y="315" width="104" height="4" fill="#969696"/><rect x="757" y="319" width="104" height="4" fill="#737373"/><rect x="757" y="323" width="104" height="3" fill="#b9b9b9"/><rect x="757" y="326" width="104" height="8" fill="#a5a5a5"/><rect x="757" y="334" width="104" height="4" fill="#bebebe"/><rect x="757" y="338" width="104" height="4" fill="#c8c8c8"/><rect x="757" y="342" width="104" height="4" fill="#a0a0a0"/><rect x="757" y="346" width="104" height="15" fill="#c8c8c8"/><rect x="757" y="361" width="104" height="4" fill="#b4b4b4"/><rect x="757" y="365" width="104" height="4" fill="#bebebe"/><rect x="757" y="369" width="104" height="4" fill="#f0f0f0"/><rect x="757" y="373" width="104" height="4" fill="#919191"/><rect x="757" y="377" width="104" height="3" fill="#bebebe"/><rect x="757" y="380" width="104" height="4" fill="#969696"/><rect x="757" y="384" width="104" height="4" fill="#e1e1e1"/><rect x="757" y="388" width="104" height="4" fill="#e8e8e8"/><rect x="757" y="392" width="104" height="8" fill="#a0a0a0"/><rect x="757" y="400" width="104" height="4" fill="#a5a5a5"/><rect x="757" y="404" width="104" height="3" fill="#b4b4b4"/><rect x="757" y="407" width="104" height="4" fill="#c8c8c8"/><rect x="757" y="411" width="104" height="4" fill="#d2d2d2"/><rect x="757" y="415" width="104" height="4" fill="#a5a5a5"/><rect x="757" y="419" width="104" height="4" fill="#b4b4b4"/><rect x="757" y="423" width="104" height="4" fill="#c3c3c3"/><rect x="757" y="427" width="104" height="4" fill="#878787"/><rect x="757" y="431" width="104" height="7" fill="#d2d2d2"/><rect x="757" y="438" width="104" height="4" fill="#e1e1e1"/><rect x="757" y="442" width="104" height="4" fill="#a5a5a5"/><rect x="757" y="446" width="104" height="4" fill="#c8c8c8"/><rect x="757" y="450" width="104" height="4" fill="#b9b9b9"/><rect x="757" y="454" width="104" height="4" fill="#a5a5a5"/><rect x="757" y="458" width="104" height="7" fill="#aaaaaa"/><rect x="757" y="465" width="104" height="4" fill="#b4b4b4"/><rect x="757" y="469" width="104" height="8" fill="#cdcdcd"/><rect x="757" y="477" width="104" height="4" fill="#9b9b9b"/><rect x="757" y="481" width="104" height="4" fill="#cdcdcd"/><rect x="757" y="485" width="104" height="3" fill="#b4b4b4"/><rect x="757" y="488" width="104" height="4" fill="#919191"/><rect x="757" y="492" width="104" height="8" fill="#a0a0a0"/><rect x="757" y="500" width="104" height="4" fill="#a5a5a5"/><rect x="757" y="504" width="104" height="4" fill="#8c8c8c"/><rect x="757" y="508" width="104" height="4" fill="#a5a5a5"/><rect x="757" y="512" width="104" height="3" fill="#dcdcdc"/><rect x="757" y="515" width="104" height="4" fill="#afafaf"/><rect x="757" y="519" width="104" height="4" fill="#cdcdcd"/><rect x="757" y="523" width="104" height="4" fill="#969696"/><rect x="757" y="527" width="104" height="4" fill="#aaaaaa"/><rect x="757" y="531" width="104" height="4" fill="#9b9b9b"/><rect x="757" y="535" width="104" height="4" fill="#d7d7d7"/><rect x="757" y="539" width="104" height="7" fill="#9b9b9b"/><rect x="757" y="546" width="104" height="4" fill="#b4b4b4"/><rect x="757" y="550" width="104" height="4" fill="#8c8c8c"/><rect x="757" y="554" width="104" height="4" fill="#dcdcdc"/><rect x="757" y="558" width="104" height="4" fill="#b9b9b9"/><rect x="757" y="562" width="104" height="7" fill="#9b9b9b"/><rect x="757" y="569" width="104" height="4" fill="#a5a5a5"/><rect x="757" y="573" width="104" height="8" fill="#a0a0a0"/><rect x="757" y="581" width="104" height="4" fill="#d2d2d2"/><rect x="757" y="585" width="104" height="8" fill="#a5a5a5"/><rect x="757" y="593" width="104" height="3" fill="#c8c8c8"/><rect x="757" y="596" width="104" height="4" fill="#d7d7d7"/><rect x="757" y="600" width="104" height="4" fill="#7d7d7d"/><rect x="757" y="604" width="104" height="4" fill="#aaaaaa"/><rect x="757" y="608" width="104" height="4" fill="#969696"/><rect x="757" y="612" width="104" height="4" fill="#8c8c8c"/><rect x="757" y="616" width="104" height="4" fill="#d7d7d7"/><rect x="757" y="620" width="104" height="3" fill="#aaaaaa"/><rect x="757" y="623" width="104" height="4" fill="#8c8c8c"/><rect x="757" y="627" width="104" height="4" fill="#aaaaaa"/><rect x="757" y="631" width="104" height="4" fill="#919191"/><rect x="757" y="635" width="104" height="4" fill="#a0a0a0"/><rect x="757" y="639" width="104" height="4" fill="#a5a5a5"/><rect x="757" y="643" width="104" height="4" fill="#a0a0a0"/><rect x="757" y="647" width="104" height="3" fill="#aaaaaa"/><rect x="757" y="650" width="104" height="4" fill="#d7d7d7"/><rect x="757" y="654" width="104" height="4" fill="#969696"/><rect x="757" y="658" width="104" height="4" fill="#afafaf"/><rect x="757" y="662" width="104" height="4" fill="#a5a5a5"/><rect x="757" y="666" width="104" height="4" fill="#919191"/><rect x="757" y="670" width="104" height="4" fill="#a0a0a0"/><rect x="757" y="674" width="104" height="15" fill="#9b9b9b"/><rect x="757" y="689" width="104" height="4" fill="#a5a5a5"/><rect x="757" y="693" width="104" height="4" fill="#9b9b9b"/><rect x="757" y="697" width="104" height="3" fill="#dcdcdc"/><rect x="757" y="700" width="104" height="4" fill="#a0a0a0"/><rect x="757" y="704" width="104" height="8" fill="#d2d2d2"/><rect x="757" y="712" width="104" height="4" fill="#919191"/><rect x="757" y="716" width="104" height="4" fill="#c3c3c3"/><rect x="757" y="720" width="104" height="4" fill="#a0a0a0"/><rect x="757" y="724" width="104" height="3" fill="#919191"/><rect x="757" y="727" width="104" height="8" fill="#d2d2d2"/><rect x="757" y="735" width="104" height="4" fill="#c8c8c8"/><rect x="757" y="739" width="104" height="4" fill="#a0a0a0"/><rect x="757" y="743" width="104" height="8" fill="#c8c8c8"/><rect x="757" y="751" width="104" height="3" fill="#e4e4e4"/><rect x="757" y="754" width="104" height="4" fill="#969696"/><rect x="757" y="758" width="104" height="4" fill="#dcdcdc"/><rect x="757" y="762" width="104" height="4" fill="#969696"/><rect x="757" y="766" width="104" height="4" fill="#c8c8c8"/><rect x="757" y="770" width="104" height="8" fill="#919191"/><rect x="757" y="778" width="104" height="3" fill="#c8c8c8"/><rect x="757" y="781" width="104" height="4" fill="#5a5a5a"/><rect x="757" y="785" width="104" height="4" fill="#8c8c8c"/><rect x="757" y="789" width="104" height="4" fill="#afafaf"/><rect x="757" y="793" width="104" height="4" fill="#878787"/><rect x="757" y="797" width="104" height="4" fill="#cdcdcd"/><rect x="757" y="801" width="104" height="4" fill="#8c8c8c"/><rect x="757" y="805" width="104" height="3" fill="#919191"/><rect x="757" y="808" width="104" height="12" fill="#8c8c8c"/><rect x="757" y="820" width="104" height="4" fill="#a0a0a0"/><rect x="757" y="824" width="104" height="4" fill="#787878"/><rect x="757" y="828" width="104" height="4" fill="#5a5a5a"/><rect x="757" y="832" width="104" height="7" fill="#6e6e6e"/><rect x="757" y="839" width="104" height="4" fill="#4b4b4b"/><rect x="757" y="843" width="104" height="4" fill="#505050"/><rect x="757" y="847" width="104" height="4" fill="#696969"/><rect x="757" y="851" width="104" height="4" fill="#232323"/><rect x="757" y="855" width="104" height="4" fill="#373737"/><rect x="757" y="859" width="104" height="3" fill="#282828"/><rect x="757" y="862" width="104" height="4" fill="#414141"/><rect x="757" y="866" width="104" height="4" fill="#2d2d2d"/><rect x="757" y="870" width="104" height="4" fill="#323232"/><rect x="757" y="874" width="104" height="8" fill="#4b4b4b"/><rect x="757" y="882" width="104" height="4" fill="#878787"/><rect x="757" y="886" width="104" height="3" fill="#464646"/><rect x="757" y="889" width="104" height="4" fill="#737373"/><rect x="757" y="893" width="104" height="4" fill="#878787"/><rect x="757" y="897" width="104" height="4" fill="#a0a0a0"/><rect x="861" y="234" width="105" height="4" fill="#fafafa"/><rect x="861" y="238" width="105" height="4" fill="#f0f0f0"/><rect x="861" y="242" width="105" height="3" fill="#ebebeb"/><rect x="861" y="245" width="105" height="4" fill="#a5a5a5"/><rect x="861" y="249" width="105" height="4" fill="#a0a0a0"/><rect x="861" y="253" width="105" height="4" fill="#696969"/><rect x="861" y="257" width="105" height="4" fill="#919191"/><rect x="861" y="261" width="105" height="4" fill="#a0a0a0"/><rect x="861" y="265" width="105" height="4" fill="#555555"/><rect x="861" y="269" width="105" height="3" fill="#5f5f5f"/><rect x="861" y="272" width="105" height="8" fill="#555555"/><rect x="861" y="280" width="105" height="4" fill="#737373"/><rect x="861" y="284" width="105" height="4" fill="#7d7d7d"/><rect x="861" y="288" width="105" height="4" fill="#696969"/><rect x="861" y="292" width="105" height="4" fill="#919191"/><rect x="861" y="296" width="105" height="3" fill="#737373"/><rect x="861" y="299" width="105" height="4" fill="#d2d2d2"/><rect x="861" y="303" width="105" height="4" fill="#4b4b4b"/><rect x="861" y="307" width="105" height="4" fill="#9b9b9b"/><rect x="861" y="311" width="105" height="4" fill="#505050"/><rect x="861" y="315" width="105" height="4" fill="#9b9b9b"/><rect x="861" y="319" width="105" height="7" fill="#7d7d7d"/><rect x="861" y="326" width="105" height="4" fill="#9b9b9b"/><rect x="861" y="330" width="105" height="4" fill="#737373"/><rect x="861" y="334" width="105" height="4" fill="#787878"/><rect x="861" y="338" width="105" height="4" fill="#a0a0a0"/><rect x="861" y="342" width="105" height="4" fill="#646464"/><rect x="861" y="346" width="105" height="4" fill="#aaaaaa"/><rect x="861" y="350" width="105" height="3" fill="#e1e1e1"/><rect x="861" y="353" width="105" height="4" fill="#aaaaaa"/><rect x="861" y="357" width="105" height="4" fill="#8c8c8c"/><rect x="861" y="361" width="105" height="4" fill="#969696"/><rect x="861" y="365" width="105" height="4" fill="#9b9b9b"/><rect x="861" y="369" width="105" height="4" fill="#fafafa"/><rect x="861" y="373" width="105" height="4" fill="#3c3c3c"/><rect x="861" y="377" width="105" height="3" fill="#bebebe"/><rect x="861" y="380" width="105" height="4" fill="#7d7d7d"/><rect x="861" y="384" width="105" height="4" fill="#f5f5f5"/><rect x="861" y="392" width="105" height="4" fill="#bebebe"/><rect x="861" y="396" width="105" height="8" fill="#646464"/><rect x="861" y="404" width="105" height="3" fill="#464646"/><rect x="861" y="407" width="105" height="4" fill="#8c8c8c"/><rect x="861" y="411" width="105" height="4" fill="#b9b9b9"/><rect x="861" y="415" width="105" height="4" fill="#5a5a5a"/><rect x="861" y="419" width="105" height="4" fill="#828282"/><rect x="861" y="423" width="105" height="4" fill="#7d7d7d"/><rect x="861" y="427" width="105" height="4" fill="#464646"/><rect x="861" y="431" width="105" height="3" fill="#a0a0a0"/><rect x="861" y="434" width="105" height="4" fill="#878787"/><rect x="861" y="438" width="105" height="4" fill="#cdcdcd"/><rect x="861" y="442" width="105" height="4" fill="#505050"/><rect x="861" y="446" width="105" height="4" fill="#bebebe"/><rect x="861" y="450" width="105" height="4" fill="#373737"/><rect x="861" y="454" width="105" height="4" fill="#3c3c3c"/><rect x="861" y="458" width="105" height="3" fill="#787878"/><rect x="861" y="461" width="105" height="8" fill="#5f5f5f"/><rect x="861" y="469" width="105" height="4" fill="#6e6e6e"/><rect x="861" y="473" width="105" height="4" fill="#787878"/><rect x="861" y="477" width="105" height="4" fill="#373737"/><rect x="861" y="481" width="105" height="7" fill="#737373"/><rect x="861" y="488" width="105" height="4" fill="#4b4b4b"/><rect x="861" y="492" width="105" height="4" fill="#323232"/><rect x="861" y="496" width="105" height="4" fill="#7d7d7d"/><rect x="861" y="500" width="105" height="4" fill="#3c3c3c"/><rect x="861" y="504" width="105" height="4" fill="#373737"/><rect x="861" y="508" width="105" height="4" fill="#464646"/><rect x="861" y="512" width="105" height="3" fill="#afafaf"/><rect x="861" y="515" width="105" height="4" fill="#414141"/><rect x="861" y="519" width="105" height="4" fill="#a5a5a5"/><rect x="861" y="523" width="105" height="4" fill="#737373"/><rect x="861" y="527" width="105" height="4" fill="#464646"/><rect x="861" y="531" width="105" height="4" fill="#505050"/><rect x="861" y="535" width="105" height="4" fill="#969696"/><rect x="861" y="539" width="105" height="3" fill="#696969"/><rect x="861" y="542" width="105" height="4" fill="#646464"/><rect x="861" y="546" width="105" height="4" fill="#4b4b4b"/><rect x="861" y="550" width="105" height="4" fill="#5a5a5a"/><rect x="861" y="554" width="105" height="4" fill="#dcdcdc"/><rect x="861" y="558" width="105" height="4" fill="#6e6e6e"/><rect x="861" y="562" width="105" height="4" fill="#3c3c3c"/><rect x="861" y="566" width="105" height="7" fill="#373737"/><rect x="861" y="573" width="105" height="4" fill="#4b4b4b"/><rect x="861" y="577" width="105" height="4" fill="#0a0a0a"/><rect x="861" y="581" width="105" height="4" fill="#969696"/><rect x="861" y="585" width="105" height="8" fill="#5a5a5a"/><rect x="861" y="593" width="105" height="3" fill="#afafaf"/><rect x="861" y="596" width="105" height="4" fill="#d7d7d7"/><rect x="861" y="600" width="105" height="4" fill="#3c3c3c"/><rect x="861" y="604" width="105" height="4" fill="#5a5a5a"/><rect x="861" y="608" width="105" height="8" fill="#4b4b4b"/><rect x="861" y="616" width="105" height="4" fill="#d2d2d2"/><rect x="861" y="620" width="105" height="3" fill="#737373"/><rect x="861" y="623" width="105" height="4" fill="#696969"/><rect x="861" y="627" width="105" height="4" fill="#919191"/><rect x="861" y="631" width="105" height="16" fill="#414141"/><rect x="861" y="647" width="105" height="3" fill="#828282"/><rect x="861" y="650" width="105" height="4" fill="#aaaaaa"/><rect x="861" y="654" width="105" height="4" fill="#232323"/><rect x="861" y="658" width="105" height="4" fill="#696969"/><rect x="861" y="662" width="105" height="4" fill="#aaaaaa"/><rect x="861" y="666" width="105" height="11" fill="#5f5f5f"/><rect x="861" y="677" width="105" height="4" fill="#7d7d7d"/><rect x="861" y="681" width="105" height="4" fill="#5a5a5a"/><rect x="861" y="685" width="105" height="8" fill="#7d7d7d"/><rect x="861" y="693" width="105" height="4" fill="#696969"/><rect x="861" y="697" width="105" height="3" fill="#919191"/><rect x="861" y="700" width="105" height="4" fill="#373737"/><rect x="861" y="704" width="105" height="4" fill="#6e6e6e"/><rect x="861" y="708" width="105" height="8" fill="#646464"/><rect x="861" y="716" width="105" height="8" fill="#828282"/><rect x="861" y="724" width="105" height="3" fill="#737373"/><rect x="861" y="727" width="105" height="4" fill="#a0a0a0"/><rect x="861" y="731" width="105" height="4" fill="#f0f0f0"/><rect x="861" y="735" width="105" height="4" fill="#aaaaaa"/><rect x="861" y="739" width="105" height="4" fill="#505050"/><rect x="861" y="743" width="105" height="4" fill="#afafaf"/><rect x="861" y="747" width="105" height="4" fill="#a0a0a0"/><rect x="861" y="751" width="105" height="3" fill="#d7d7d7"/><rect x="861" y="754" width="105" height="4" fill="#696969"/><rect x="861" y="758" width="105" height="4" fill="#d2d2d2"/><rect x="861" y="762" width="105" height="4" fill="#7d7d7d"/><rect x="861" y="766" width="105" height="4" fill="#dcdcdc"/><rect x="861" y="770" width="105" height="4" fill="#a0a0a0"/><rect x="861" y="774" width="105" height="4" fill="#5f5f5f"/><rect x="861" y="778" width="105" height="3" fill="#c8c8c8"/><rect x="861" y="781" width="105" height="4" fill="#4b4b4b"/><rect x="861" y="785" width="105" height="4" fill="#6e6e6e"/><rect x="861" y="789" width="105" height="4" fill="#a5a5a5"/><rect x="861" y="793" width="105" height="4" fill="#8c8c8c"/><rect x="861" y="797" width="105" height="4" fill="#e1e1e1"/><rect x="861" y="801" width="105" height="4" fill="#6e6e6e"/><rect x="861" y="805" width="105" height="3" fill="#7d7d7d"/><rect x="861" y="808" width="105" height="4" fill="#6e6e6e"/><rect x="861" y="812" width="105" height="4" fill="#969696"/><rect x="861" y="816" width="105" height="4" fill="#646464"/><rect x="861" y="820" width="105" height="4" fill="#969696"/><rect x="861" y="824" width="105" height="4" fill="#8c8c8c"/><rect x="861" y="828" width="105" height="4" fill="#505050"/><rect x="861" y="832" width="105" height="3" fill="#696969"/><rect x="861" y="835" width="105" height="4" fill="#6e6e6e"/><rect x="861" y="839" width="105" height="4" fill="#fcfcfc"/><rect x="861" y="843" width="105" height="4" fill="#a0a0a0"/><rect x="861" y="847" width="105" height="4" fill="#9b9b9b"/><rect x="861" y="851" width="105" height="4" fill="#e4e4e4"/><rect x="861" y="855" width="105" height="4" fill="#f0f0f0"/><rect x="861" y="859" width="105" height="3" fill="#fafafa"/><rect x="861" y="866" width="105" height="4" fill="#fcfcfc"/><rect x="861" y="874" width="105" height="4" fill="#f5f5f5"/><rect x="861" y="889" width="105" height="4" fill="#f5f5f5"/><rect x="234" y="191" width="105" height="27" fill="#0012ff"/><rect x="339" y="191" width="104" height="27" fill="#00a4ff"/><rect x="443" y="191" width="105" height="27" fill="#41ffb6"/><rect x="548" y="191" width="104" height="27" fill="#b6ff41"/><rect x="652" y="191" width="105" height="27" fill="#ffb900"/><rect x="757" y="191" width="104" height="27" fill="#ff3200"/><rect x="861" y="191" width="105" height="27" fill="#800000"/></svg>
<div style="position:absolute;left:10px;top:10px;width:50px;height:180px;background:linear-gradient(to top,#ffffff 0%,#000000 100%)"></div>
<div class="t" style="left:60px;top:39px;width:6px;height:1px"></div>
<div class="t" style="left:60px;top:89px;width:6px;height:1px"></div>
<div class="t" style="left:60px;top:139px;width:6px;height:1px"></div>
<div class="t" style="left:60px;top:190px;width:6px;height:1px"></div>
<div class="lb" style="left:70.5px;top:28px">0.6</div>
<div class="lb" style="left:70.5px;top:79px">0.4</div>
<div class="lb" style="left:70.5px;top:129px">0.2</div>
<div class="lb" style="left:70.5px;top:179px">0.0</div>
<div class="t" style="left:966px;top:205px;width:5px;height:1px"></div>
<div class="t" style="left:219px;top:901px;width:1px;height:5px"></div>
<div class="lb" style="left:190.5px;top:929px;transform:rotate(-90deg);transform-origin:center center">class</div>
</body></html>
